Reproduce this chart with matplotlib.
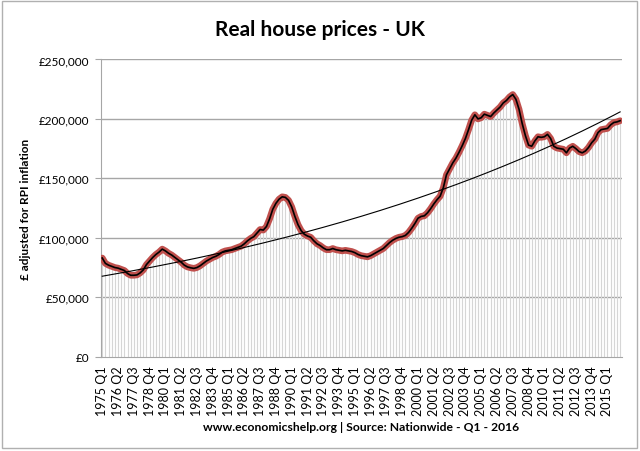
"""Real house prices - UK, Nationwide quarterly, RPI-adjusted (1975 Q1 - 2016 Q1)."""
import matplotlib

matplotlib.use("Agg")
import matplotlib.pyplot as plt
import numpy as np
from matplotlib.patches import Rectangle

plt.rcParams["font.family"] = ["Lato", "DejaVu Sans"]

FIRST_YEAR = 1975
N_QUARTERS = 165  # 1975 Q1 .. 2016 Q1

# real price, £ (one value per quarter)
PRICES = [
    83000, 78500, 77000, 76000,      # 1975
    75000, 74500, 73500, 72500,      # 1976
    70000, 68500, 68500, 68800,      # 1977
    70500, 73000, 77500, 80500,      # 1978
    83500, 86000, 88000, 90500,      # 1979
    89000, 87000, 85500, 83500,      # 1980
    81500, 79500, 77000, 75500,      # 1981
    74800, 74300, 75000, 76500,      # 1982
    78500, 80500, 82000, 83500,      # 1983
    84500, 86000, 88000, 89000,      # 1984
    89500, 90000, 91000, 92000,      # 1985
    93000, 95000, 97500, 99500,      # 1986
    101000, 104000, 107000, 106500,  # 1987
    109500, 116000, 124000, 129000,  # 1988
    132500, 134500, 134000, 131500,  # 1989
    126000, 118000, 111000, 106000,  # 1990
    103000, 101500, 100500, 97500,   # 1991
    95000, 93500, 91500, 90000,      # 1992
    90000, 91000, 90000, 89500,      # 1993
    89000, 89500, 89000, 88500,      # 1994
    87500, 86000, 85000, 84500,      # 1995
    84000, 85000, 86500, 88000,      # 1996
    89500, 91000, 93500, 96000,      # 1997
    98000, 99500, 100500, 101000,    # 1998
    102000, 104500, 108000, 112000,  # 1999
    116500, 118000, 118500, 121000,  # 2000
    124500, 128500, 132000, 135000,  # 2001
    142000, 153000, 158000, 163000,  # 2002
    167000, 172000, 177500, 183500,  # 2003
    191000, 199000, 203500, 200000,  # 2004
    201000, 204000, 203000, 202000,  # 2005
    205000, 207500, 210000, 213500,  # 2006
    215500, 218500, 220500, 216500,  # 2007
    208000, 196000, 186000, 178000,  # 2008
    177000, 181500, 185000, 184500,  # 2009
    185000, 187000, 183500, 177000,  # 2010
    175500, 175000, 174500, 171500,  # 2011
    175500, 177000, 175000, 172500,  # 2012
    171500, 173000, 176000, 180000,  # 2013
    183000, 188500, 191000, 191500,  # 2014
    192000, 195000, 197000, 197500,  # 2015
    198500,                          # 2016
]

Y_TICKS = [0, 50000, 100000, 150000, 200000, 250000]
LABEL_STEP = 5

labels = [f"{FIRST_YEAR + i // 4} Q{i % 4 + 1}" for i in range(N_QUARTERS)]
x = np.arange(N_QUARTERS)
y = np.array(PRICES, dtype=float)

# exponential trendline, as Excel fits it (least squares on log y)
b, a = np.polyfit(x, np.log(y), 1)
trend = np.exp(a + b * x)

fig = plt.figure(figsize=(6.4, 4.52), dpi=100)
ax = fig.add_axes([0.1573, 0.2086, 0.8141, 0.6576])

ax.vlines(x, 0, y, color="#d6d6d6", linewidth=0.8, zorder=1)
for v in Y_TICKS[1:]:
    ax.axhline(v, color="#a6a6a6", linewidth=1.0, zorder=0)
ax.plot(x, y, color="#c0504d", linewidth=4.8, solid_capstyle="round",
        solid_joinstyle="round", zorder=3)
ax.plot(x, y, color="black", linewidth=1.2, zorder=4)
ax.plot(x, trend, color="black", linewidth=0.8, zorder=5)

ax.set_xlim(-0.5, N_QUARTERS - 0.5)
ax.set_ylim(0, 250000)
ax.set_yticks(Y_TICKS)
ax.set_yticklabels([f"£{v:,}" for v in Y_TICKS], fontsize=8.5)
ax.set_xticks(x[::LABEL_STEP])
ax.set_xticklabels(labels[::LABEL_STEP], rotation=90, fontsize=9)
ax.tick_params(axis="x", length=0, pad=6)
ax.tick_params(axis="y", length=4, color="#a6a6a6", pad=4)
for side in ("top", "right"):
    ax.spines[side].set_visible(False)
for side in ("left", "bottom"):
    ax.spines[side].set_color("#a6a6a6")

ax.set_ylabel("£ adjusted for RPI inflation", fontsize=8.5, fontweight="bold", labelpad=6)
fig.text(0.5, 0.933, "Real house prices - UK", ha="center", va="center",
         fontsize=15, fontweight="bold")
ax_mid = 0.1573 + 0.8141 / 2
fig.text(ax_mid, 0.055, "www.economicshelp.org | Source: Nationwide - Q1 - 2016",
         ha="center", va="center", fontsize=8.7, fontweight="bold")

fig.patches.append(Rectangle((0.003, 0.006), 0.992, 0.99, transform=fig.transFigure,
                             fill=False, edgecolor="#b0b0b0", linewidth=1.0))

fig.savefig("out.png", dpi=100)
